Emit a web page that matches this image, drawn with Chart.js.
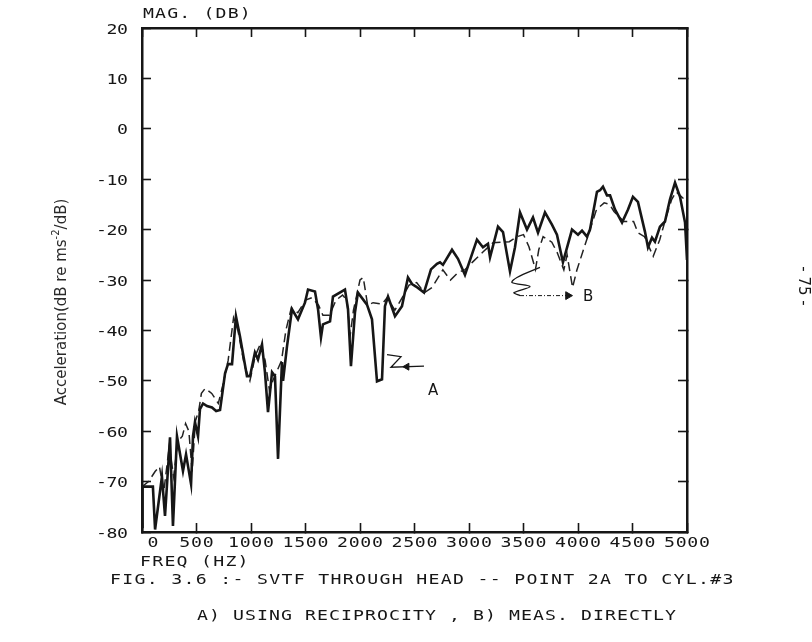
<!DOCTYPE html>
<html>
<head>
<meta charset="utf-8">
<script src="https://cdn.jsdelivr.net/npm/chart.js@4.4.0/dist/chart.umd.min.js"></script>
<style>
  body { margin: 0; background: #fff; }
</style>
</head>
<body>
<canvas id="canvas" width="812" height="642"></canvas>
<script>
// A) using reciprocity (solid, heavy line)
var freqA = [0, 5, 100, 120, 183, 211, 257, 284, 321, 376, 404, 450, 468, 486, 514, 532, 560, 596, 642, 680,
  716, 762, 789, 826, 862, 899, 963, 991, 1036, 1064, 1101, 1128, 1156, 1193, 1220, 1248, 1284, 1294, 1330, 1376,
  1431, 1495, 1523, 1587, 1615, 1642, 1660, 1725, 1752, 1862, 1890, 1917, 1954, 1981, 2064, 2110, 2156, 2202, 2229, 2257,
  2321, 2385, 2440, 2477, 2514, 2587, 2651, 2706, 2734, 2761, 2844, 2899, 2963, 3073, 3128, 3174, 3193, 3266, 3312, 3376,
  3422, 3468, 3532, 3587, 3633, 3697, 3761, 3807, 3862, 3945, 4000, 4037, 4083, 4110, 4174, 4202, 4229, 4266, 4294, 4339,
  4404, 4459, 4504, 4550, 4614, 4642, 4679, 4706, 4752, 4798, 4844, 4890, 4936, 4982, 5000];
var magA = [-79, -71, -71, -79.5, -69, -76.8, -61.2, -78.8, -61, -67.9, -64.6, -70.5, -61, -58.2, -61, -55.6, -54.5, -55, -55.3, -56,
  -55.8, -48.5, -46.7, -46.7, -37.2, -41.2, -49.1, -49.1, -44.4, -45.8, -42.8, -48.3, -56.2, -48.3, -49.1, -65.5, -46.3, -50, -43.2, -35.8,
  -37.8, -34.5, -31.9, -32.3, -35.8, -41.4, -38.8, -38.2, -33.3, -31.9, -35.8, -47.1, -36.4, -32.5, -34.9, -37.8, -50.1, -49.7, -35.2, -33.3,
  -37.2, -35.2, -29.5, -30.8, -31.3, -32.5, -27.9, -26.8, -26.5, -27, -24, -25.8, -29, -22, -23.5, -22.8, -25.5, -19.4, -20.5, -28.3,
  -23.5, -16.6, -20, -17.6, -20.6, -16.6, -19, -21, -26.5, -20, -21, -20.2, -21.4, -20, -12.5, -12.2, -11.5, -13.2, -13.2, -16,
  -18.6, -16, -13.5, -14.5, -20.4, -23.5, -21.6, -22.4, -19.4, -18.4, -14, -10.7, -13.5, -18.6, -26];

// B) measured directly (dashed line)
var freqB = [0, 60, 120, 160, 200, 250, 290, 330, 370, 400, 430, 460, 490, 520, 545, 580, 640, 700, 740, 790,
  840, 880, 940, 990, 1040, 1090, 1130, 1170, 1200, 1240, 1280, 1320, 1370, 1430, 1500, 1560, 1620, 1660, 1720, 1780,
  1840, 1880, 1910, 1940, 2000, 2030, 2070, 2120, 2200, 2250, 2320, 2400, 2450, 2520, 2590, 2660, 2760, 2830, 2900, 2960,
  3030, 3130, 3220, 3370, 3440, 3500, 3550, 3610, 3640, 3680, 3760, 3810, 3870, 3900, 3950, 3990, 4080, 4170, 4240, 4290,
  4330, 4420, 4510, 4550, 4610, 4690, 4750, 4810, 4860, 4900, 4960, 5000];
var magB = [-71, -70, -68, -67, -72, -63, -69, -62, -61, -58.5, -60, -68, -58, -56, -52.5, -51.5, -52.5, -54.5, -51, -46,
  -37.5, -40, -47, -50, -45, -42.5, -46, -52, -50, -48, -46, -40, -35.5, -36.5, -34, -33.5, -35, -37, -37, -34,
  -33, -34, -41, -36, -30, -29.5, -35, -34.5, -34.8, -33.5, -36, -33, -31, -30.5, -32.5, -31.5, -28, -30, -28.5, -28,
  -26.5, -24.4, -22.6, -22.4, -21.4, -21, -23.4, -27.9, -24, -21.4, -22.5, -24.6, -28, -25, -31.5, -28, -22, -16, -14.7, -15,
  -16.4, -18.4, -18.4, -20.6, -21.4, -25.3, -22, -17.4, -14, -12.5, -13.7, -14];

// hand drawn pointers to the curves
var pointerAFreq = [2248, 2376, 2284, 2587];
var pointerAMag = [-44.8, -45.2, -47.3, -47.1];
var pointerBFreq = [3651, 3440, 3394, 3560, 3413, 3468];
var pointerBMag = [-27.5, -29.5, -30.5, -31.3, -32.5, -33.1];
var arrowBFreq = [3468, 3908];
var arrowBMag = [-33.1, -33.1];

var xTicks = [0, 500, 1000, 1500, 2000, 2500, 3000, 3500, 4000, 4500, 5000];
var yTicks = [20, 10, 0, -10, -20, -30, -40, -50, -60, -70, -80];

var topLabel = 'MAG. (DB)';
var xLabel = 'FREQ (HZ)';
var figTitle = 'FIG. 3.6 :- SVTF THROUGH HEAD -- POINT 2A TO CYL.#3';
var figSub = 'A) USING RECIPROCITY , B) MEAS. DIRECTLY';

function pts(xs, ys) {
    var out = [];
    for (let i = 0; i < xs.length; i++) {
        out.push({ x: xs[i], y: ys[i] });
    }
    return out;
}

const INK = '#161616';
const MONO = '"DejaVu Sans Mono", monospace';
const STRETCH = 1.3;

// plotter lettering: wide, evenly pitched characters
function plotText(ctx, str, x, y, align, pitch) {
    ctx.save();
    ctx.font = '14px ' + MONO;
    const adv = ctx.measureText('0').width;
    const ls = pitch / STRETCH - adv;
    const w = (str.length * pitch) - ls * STRETCH;
    let x0 = x;
    if (align === 'center') x0 = x - w / 2;
    if (align === 'right') x0 = x - w;
    ctx.translate(x0, y);
    ctx.scale(STRETCH, 1);
    ctx.letterSpacing = ls + 'px';
    ctx.textAlign = 'left';
    ctx.textBaseline = 'middle';
    ctx.fillText(str, 0, 0);
    ctx.restore();
}

const textPlugin = {
    id: 'plotText',
    afterDraw(chart) {
        const ctx = chart.ctx;
        const xs = chart.scales.x, ys = chart.scales.y, area = chart.chartArea;
        ctx.save();
        ctx.fillStyle = INK;

        plotText(ctx, topLabel, area.left + 1, 14, 'left', 12.1);

        ys.ticks.forEach(function (t) {
            plotText(ctx, String(t.value), 128, ys.getPixelForValue(t.value) + 2, 'right', 10.5);
        });
        xs.ticks.forEach(function (t) {
            let px = xs.getPixelForValue(t.value);
            if (t.value === 0) px += 11;
            plotText(ctx, String(t.value), px, 543, 'center', 11.7);
        });

        plotText(ctx, xLabel, 140, 562, 'left', 12.2);
        plotText(ctx, figTitle, 110, 580, 'left', 12.25);
        plotText(ctx, figSub, 197, 616, 'left', 12);

        // curve markers
        ctx.font = '15px "DejaVu Sans", sans-serif';
        ctx.textAlign = 'center';
        ctx.textBaseline = 'middle';
        ctx.fillText('A', xs.getPixelForValue(2670), ys.getPixelForValue(-52.1));
        ctx.fillText('B', xs.getPixelForValue(4092), ys.getPixelForValue(-33.3));

        // y axis title (added by hand on the original)
        ctx.save();
        ctx.translate(62, 302);
        ctx.rotate(-Math.PI / 2);
        ctx.fillStyle = '#2a2a2a';
        ctx.font = '15px "DejaVu Sans", sans-serif';
        const p1 = 'Acceleration(dB re ms', sup = '-2', p2 = '/dB)';
        const w1 = ctx.measureText(p1).width, w3 = ctx.measureText(p2).width;
        ctx.font = '10px "DejaVu Sans", sans-serif';
        const w2 = ctx.measureText(sup).width;
        let sx = -(w1 + w2 + w3) / 2;
        ctx.textAlign = 'left';
        ctx.font = '15px "DejaVu Sans", sans-serif';
        ctx.fillText(p1, sx, 0);
        ctx.font = '10px "DejaVu Sans", sans-serif';
        ctx.fillText(sup, sx + w1, -6);
        ctx.font = '15px "DejaVu Sans", sans-serif';
        ctx.fillText(p2, sx + w1 + w2, 0);
        ctx.restore();

        // page number
        ctx.save();
        ctx.translate(803, 286);
        ctx.rotate(Math.PI / 2);
        ctx.font = '15px "DejaVu Sans", sans-serif';
        ctx.textAlign = 'center';
        ctx.fillText('- 75 -', 0, 0);
        ctx.restore();

        ctx.restore();
    }
};

const axisGrid = {
    drawOnChartArea: false,
    drawTicks: true,
    tickLength: -9,
    tickColor: INK,
    tickWidth: 1.6
};
const axisBorder = { display: true, color: INK, width: 2.5 };

function fixTicks(list) {
    return function (s) { s.ticks = list.map(function (v) { return { value: v }; }); };
}

const ctx = document.getElementById('canvas').getContext('2d');
const myChart = new Chart(ctx, {
    type: 'scatter',
    data: {
        datasets: [{
            label: 'A) Using reciprocity',
            data: pts(freqA, magA),
            borderColor: INK,
            borderWidth: 2.6,
            showLine: true,
            pointRadius: 0,
            tension: 0
        },
        {
            label: 'B) Meas. directly',
            data: pts(freqB, magB),
            borderColor: '#222',
            borderWidth: 1.5,
            borderDash: [9, 5],
            showLine: true,
            pointRadius: 0,
            tension: 0
        },
        {
            label: 'pointer A',
            data: pts(pointerAFreq, pointerAMag),
            borderColor: INK,
            borderWidth: 1.3,
            showLine: true,
            pointRadius: 0,
            tension: 0
        },
        {
            label: 'arrow A',
            data: [{ x: 2430, y: -47.2 }],
            backgroundColor: INK,
            borderColor: INK,
            pointStyle: 'triangle',
            pointRotation: -90,
            radius: 4,
            showLine: false
        },
        {
            label: 'pointer B',
            data: pts(pointerBFreq, pointerBMag),
            borderColor: INK,
            borderWidth: 1.3,
            showLine: true,
            pointRadius: 0,
            tension: 0.3
        },
        {
            label: 'arrow B',
            data: pts(arrowBFreq, arrowBMag),
            borderColor: INK,
            borderWidth: 1,
            borderDash: [4, 2, 1, 2],
            showLine: true,
            pointRadius: [0, 4.5],
            pointStyle: 'triangle',
            pointRotation: 90,
            backgroundColor: INK,
            tension: 0
        }]
    },
    options: {
        responsive: false,
        animation: false,
        layout: { padding: { left: 0, right: 125, top: 28, bottom: 0 } },
        plugins: {
            legend: { display: false },
            tooltip: { enabled: false }
        },
        scales: {
            x: {
                type: 'linear', position: 'bottom', min: 0, max: 5000,
                afterBuildTicks: fixTicks(xTicks),
                ticks: { display: false },
                grid: axisGrid, border: axisBorder,
                afterFit: function (s) { s.height = 110; }
            },
            x2: {
                type: 'linear', position: 'top', min: 0, max: 5000,
                afterBuildTicks: fixTicks(xTicks),
                ticks: { display: false },
                grid: axisGrid, border: axisBorder,
                afterFit: function (s) { s.height = 0; }
            },
            y: {
                type: 'linear', position: 'left', min: -80, max: 20,
                afterBuildTicks: fixTicks(yTicks),
                ticks: { display: false },
                grid: axisGrid, border: axisBorder,
                afterFit: function (s) { s.width = 142; }
            },
            y2: {
                type: 'linear', position: 'right', min: -80, max: 20,
                afterBuildTicks: fixTicks(yTicks),
                ticks: { display: false },
                grid: axisGrid, border: axisBorder,
                afterFit: function (s) { s.width = 0; }
            }
        }
    },
    plugins: [textPlugin]
});
</script>
</body>
</html>
